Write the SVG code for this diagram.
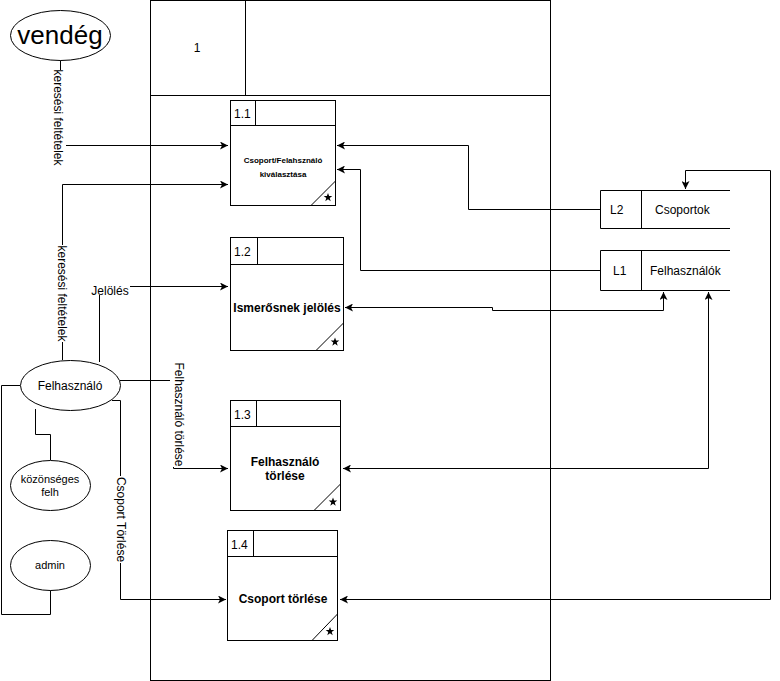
<svg xmlns="http://www.w3.org/2000/svg" width="780" height="681" viewBox="0 0 780 681">
<style>
text{font-family:"Liberation Sans",Arial,sans-serif;fill:#000}
.s{fill:none;stroke:#000;stroke-width:1}
.b{fill:#fff;stroke:#000;stroke-width:1}
.c{fill:none;stroke:#000;stroke-width:1}
.l{font-size:12px}
.t{font-size:12px;font-weight:bold;text-anchor:middle}
.m{text-anchor:middle}
.bg{fill:#fff;stroke:none}
</style>
<defs>
<marker id="a" viewBox="0 0 8 8" refX="8" refY="4" markerWidth="8" markerHeight="8" markerUnits="userSpaceOnUse" orient="auto-start-reverse">
<path d="M0,0 L8,4 L0,8 L2,4 z" fill="#000"/>
</marker>
<polygon id="star" points="0,-4.5 1.1,-1.4 4.3,-1.4 1.7,0.6 2.7,3.7 0,1.8 -2.7,3.7 -1.7,0.6 -4.3,-1.4 -1.1,-1.4" fill="#000"/>
</defs>

<g id="frame">
<rect class="s" x="150.5" y="0.5" width="400" height="680"/>
<line class="s" x1="150.5" y1="95.5" x2="550.5" y2="95.5"/>
<line class="s" x1="245.5" y1="0.5" x2="245.5" y2="95.5"/>
<text class="l m" x="197" y="52">1</text>
</g>

<g id="connectors">
<path class="c" d="M60.5,60 L60.5,145.5 L228,145.5" marker-end="url(#a)"/>
<path class="c" d="M62.5,360 L62.5,184.5 L228,184.5" marker-end="url(#a)"/>
<path class="c" d="M99.5,362 L99.5,286.5 L228,286.5" marker-end="url(#a)"/>
<path class="c" d="M120,380.5 L173.5,380.5 L173.5,468.5 L228,468.5" marker-end="url(#a)"/>
<path class="c" d="M112,400.5 L120.5,400.5 L120.5,599.5 L226,599.5" marker-end="url(#a)"/>
<path class="c" d="M20,385.5 L1.5,385.5 L1.5,614.5 L50.5,614.5 L50.5,590"/>
<path class="c" d="M35.5,409 L35.5,434.5 L50.5,434.5 L50.5,460"/>
<path class="c" d="M600,209.5 L468.5,209.5 L468.5,145.5 L337,145.5" marker-end="url(#a)"/>
<path class="c" d="M600,270.5 L360.5,270.5 L360.5,169.5 L337,169.5" marker-end="url(#a)"/>
<path class="c" d="M345,307.5 L492.5,307.5 L492.5,310.5 L663.5,310.5 L663.5,292" marker-start="url(#a)" marker-end="url(#a)"/>
<path class="c" d="M343,468.5 L708.5,468.5 L708.5,292" marker-start="url(#a)" marker-end="url(#a)"/>
<path class="c" d="M340,599.5 L770.5,599.5 L770.5,170.5 L685.5,170.5 L685.5,189" marker-start="url(#a)" marker-end="url(#a)"/>
<rect class="bg" x="51" y="70" width="15" height="95"/>
<text class="l m" transform="translate(54,117.5) rotate(90)">keresési feltételek</text>
<rect class="bg" x="55" y="245" width="15" height="97"/>
<text class="l m" transform="translate(58,293.5) rotate(90)">keresési feltételek</text>
<rect class="bg" x="90" y="280" width="40" height="15"/>
<text class="l m" x="110" y="295">Jelölés</text>
<rect class="bg" x="170" y="362" width="15" height="105"/>
<text class="l m" transform="translate(175,414.5) rotate(90)">Felhasználó törlése</text>
<rect class="bg" x="113" y="476" width="15" height="87"/>
<text class="l m" transform="translate(117,519.5) rotate(90)">Csoport Törlése</text>
</g>

<g id="vendeg">
<ellipse class="b" cx="60.5" cy="35.5" rx="50" ry="25"/>
<text x="60" y="44" class="m" style="font-size:26px">vendég</text>
</g>

<g id="felhasznalo">
<ellipse class="b" cx="70.5" cy="385.5" rx="50" ry="25"/>
<text x="70" y="390" class="l m">Felhasználó</text>
</g>

<g id="kozonseges">
<ellipse class="b" cx="50.5" cy="485.5" rx="40" ry="25"/>
<text x="50" y="483" class="m" style="font-size:11px">közönséges</text>
<text x="50" y="496" class="m" style="font-size:11px">felh</text>
</g>

<g id="admin">
<ellipse class="b" cx="50.5" cy="565.5" rx="40" ry="25"/>
<text x="50" y="569" class="m" style="font-size:11px">admin</text>
</g>

<g id="p11">
<rect class="b" x="230.5" y="100.5" width="105" height="105"/>
<line class="s" x1="230.5" y1="125.5" x2="335.5" y2="125.5"/>
<line class="s" x1="255.5" y1="100.5" x2="255.5" y2="125.5"/>
<text class="l" x="234" y="118">1.1</text>
<text x="283" y="163" style="font-size:8px;font-weight:bold;text-anchor:middle">Csoport/Felahsználó</text>
<text x="283" y="177" style="font-size:8px;font-weight:bold;text-anchor:middle">kiválasztása</text>
<line class="s" x1="311" y1="205.5" x2="335.5" y2="181"/>
<use href="#star" x="328" y="197.5"/>
</g>

<g id="p12">
<rect class="b" x="230.5" y="237.5" width="113" height="113"/>
<line class="s" x1="230.5" y1="264.5" x2="343.5" y2="264.5"/>
<line class="s" x1="257.5" y1="237.5" x2="257.5" y2="264.5"/>
<text class="l" x="234" y="256">1.2</text>
<text class="t" x="287" y="312">Ismerősnek jelölés</text>
<line class="s" x1="316" y1="350.5" x2="343.5" y2="323"/>
<use href="#star" x="335" y="342"/>
</g>

<g id="p13">
<rect class="b" x="230.5" y="400.5" width="110" height="110"/>
<line class="s" x1="230.5" y1="426.5" x2="340.5" y2="426.5"/>
<line class="s" x1="256.5" y1="400.5" x2="256.5" y2="426.5"/>
<text class="l" x="234" y="419">1.3</text>
<text class="t" x="285" y="466">Felhasználó</text>
<text class="t" x="285" y="480">törlése</text>
<line class="s" x1="314" y1="510.5" x2="340.5" y2="484"/>
<use href="#star" x="333" y="502"/>
</g>

<g id="p14">
<rect class="b" x="227.5" y="530.5" width="110" height="110"/>
<line class="s" x1="227.5" y1="556.5" x2="337.5" y2="556.5"/>
<line class="s" x1="253.5" y1="530.5" x2="253.5" y2="556.5"/>
<text class="l" x="231" y="549">1.4</text>
<text class="t" x="283" y="603">Csoport törlése</text>
<line class="s" x1="312" y1="640.5" x2="337.5" y2="614"/>
<use href="#star" x="330" y="631.5"/>
</g>

<g id="L2">
<path class="s" d="M730,190.5 L600.5,190.5 L600.5,228.5 L730,228.5"/>
<line class="s" x1="641.5" y1="190.5" x2="641.5" y2="228.5"/>
<text class="l" x="610" y="214">L2</text>
<text class="l" x="655" y="214">Csoportok</text>
</g>

<g id="L1">
<path class="s" d="M730,250.5 L600.5,250.5 L600.5,290.5 L730,290.5"/>
<line class="s" x1="641.5" y1="250.5" x2="641.5" y2="290.5"/>
<text class="l" x="613" y="275">L1</text>
<text class="l" x="650" y="275">Felhasználók</text>
</g>
</svg>
